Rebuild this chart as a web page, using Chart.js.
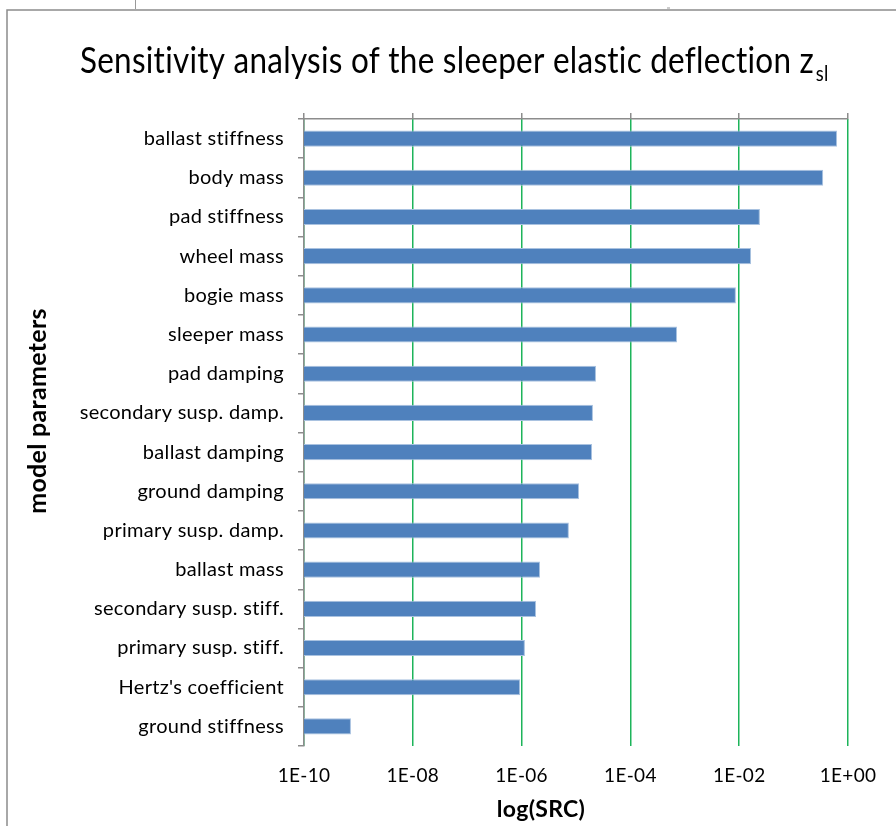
<!DOCTYPE html>
<html>
<head>
<meta charset="utf-8">
<script src="https://cdn.jsdelivr.net/npm/chart.js@4/dist/chart.umd.min.js"></script>
<style>
html,body{margin:0;padding:0;background:#fff;}
#wrap{position:relative;width:896px;height:826px;}
</style>
</head>
<body>
<div id="wrap"><canvas id="c" width="896" height="826"></canvas></div>
<script>
const categories = [
  'ballast stiffness','body mass','pad stiffness','wheel mass','bogie mass',
  'sleeper mass','pad damping','secondary susp. damp.','ballast damping',
  'ground damping','primary susp. damp.','ballast mass','secondary susp. stiff.',
  'primary susp. stiff.',"Hertz's coefficient",'ground stiffness'
];
const srcValues = [
  0.63, 0.35, 0.024, 0.0165, 0.0087,
  7.2e-4, 2.33e-5, 2.05e-5, 1.97e-5,
  1.14e-5, 7.4e-6, 2.18e-6, 1.84e-6,
  1.15e-6, 9.4e-7, 7.3e-10
];
const tickValues = [1e-10, 1e-8, 1e-6, 1e-4, 1e-2, 1];
const tickLabels = ['1E-10','1E-08','1E-06','1E-04','1E-02','1E+00'];
const titleMain = 'Sensitivity analysis of the sleeper elastic deflection z';
const titleSub = 'sl';
const xTitle = 'log(SRC)';
const yTitle = 'model parameters';

Chart.defaults.font.family = 'Lato';
Chart.defaults.color = '#000';

const canvas = document.getElementById('c');

function noLig(ctx) { try { ctx.letterSpacing = '0.3px'; } catch (e) {} }

const decor = {
  id: 'decor',
  beforeUpdate(chart) { noLig(chart.ctx); },
  beforeLayout(chart) { noLig(chart.ctx); },
  beforeDraw(chart) {
    const ctx = chart.ctx;
    noLig(ctx);
    ctx.save();
    ctx.fillStyle = '#fff';
    ctx.fillRect(0, 0, chart.width, chart.height);
    ctx.strokeStyle = '#8c8c8c';
    ctx.lineWidth = 1.5;
    ctx.beginPath();
    ctx.moveTo(7, 826);
    ctx.lineTo(7, 10);
    ctx.lineTo(896, 10);
    ctx.stroke();
    ctx.lineWidth = 1;
    ctx.strokeStyle = '#999';
    ctx.beginPath();
    ctx.moveTo(135.5, 0); ctx.lineTo(135.5, 9);
    ctx.moveTo(667, 8); ctx.lineTo(670, 8);
    ctx.stroke();
    ctx.restore();
  },
  afterDraw(chart) {
    const ctx = chart.ctx;
    ctx.save();
    noLig(ctx);
    ctx.fillStyle = '#000';
    ctx.textBaseline = 'alphabetic';
    // title
    ctx.font = '36px Lato';
    const wMain = ctx.measureText(titleMain).width;
    const targetW = 734;
    const sx = targetW / wMain;
    ctx.save();
    ctx.translate(80, 73);
    ctx.scale(sx, 1);
    ctx.font = '36px Lato';
    ctx.textAlign = 'left';
    ctx.fillText(titleMain, 0, 0);
    ctx.font = '21px Lato';
    ctx.fillText(titleSub, wMain + 2, 8);
    ctx.restore();
    // x axis title
    ctx.font = 'bold 23px Lato';
    ctx.textAlign = 'center';
    ctx.fillText(xTitle, 541, 817);
    // y axis title
    ctx.save();
    ctx.translate(46, 411);
    ctx.rotate(-Math.PI / 2);
    ctx.font = 'bold 25px Lato';
    ctx.textAlign = 'center';
    ctx.fillText(yTitle, 0, 0);
    ctx.restore();
    ctx.restore();
  }
};

new Chart(canvas, {
  type: 'bar',
  data: {
    labels: categories,
    datasets: [{
      data: srcValues,
      backgroundColor: '#4F81BD',
      borderColor: '#A9C2E0',
      borderWidth: 1,
      barPercentage: 0.41,
      categoryPercentage: 1.0
    }]
  },
  options: {
    indexAxis: 'y',
    responsive: false,
    animation: false,
    layout: { padding: { left: 0, right: 48, top: 0, bottom: 0 } },
    plugins: { legend: { display: false }, title: { display: false }, tooltip: { enabled: false } },
    scales: {
      x: {
        type: 'logarithmic',
        position: 'bottom',
        min: 1e-10,
        max: 1,
        afterBuildTicks(s) { s.ticks = tickValues.map(v => ({ value: v })); },
        afterFit(s) { s.height = 80; },
        border: { display: false },
        grid: { color: '#1DB45A', lineWidth: 1.5, drawTicks: false },
        ticks: {
          padding: 18,
          font: { size: 19 },
          color: '#000',
          maxRotation: 0,
          autoSkip: false,
          callback: (v, i) => tickLabels[i]
        }
      },
      x2: {
        type: 'logarithmic',
        position: 'top',
        min: 1e-10,
        max: 1,
        afterBuildTicks(s) { s.ticks = tickValues.map(v => ({ value: v })); },
        afterFit(s) { s.height = 119; },
        border: { display: true, color: '#8c8c8c', width: 1.5 },
        grid: { drawOnChartArea: false, drawTicks: true, tickLength: 6, color: '#8c8c8c', lineWidth: 1.5 },
        ticks: { display: false }
      },
      y: {
        type: 'category',
        afterFit(s) { s.width = 304; },
        border: { display: true, color: '#8c8c8c', width: 1.5 },
        grid: { offset: true, drawOnChartArea: false, drawTicks: true, tickLength: 6, color: '#8c8c8c', lineWidth: 1.5 },
        ticks: { padding: 14, font: { size: 20 }, color: '#000', autoSkip: false }
      }
    }
  },
  plugins: [decor]
});
</script>
</body>
</html>
